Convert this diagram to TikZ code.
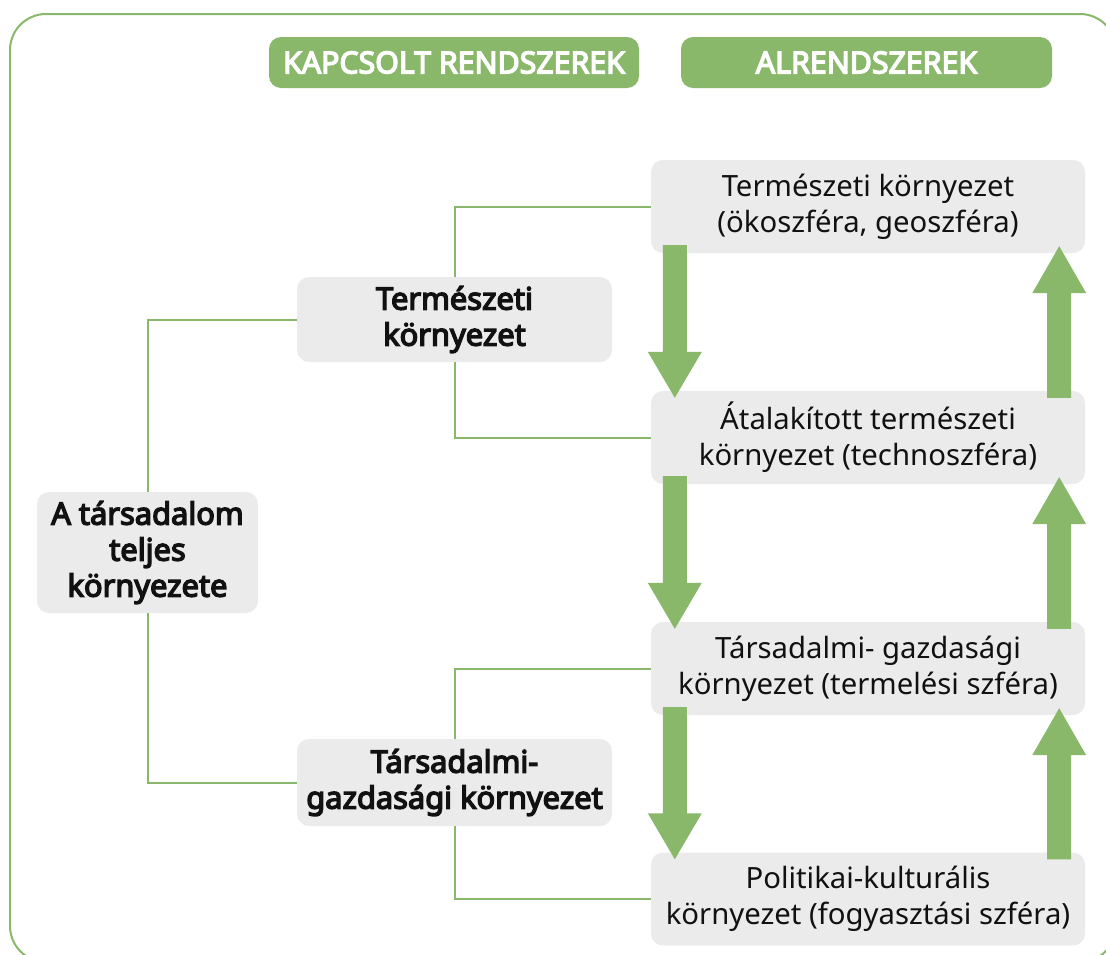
\documentclass[tikz,border=0pt]{standalone}
\usepackage{fontspec}
\setmainfont{Noto Sans}[AutoFakeBold=4.5]
\usetikzlibrary{calc}
\definecolor{grn}{HTML}{89B86A}
\definecolor{gry}{HTML}{EBEBEB}
\definecolor{txt}{HTML}{111111}
\begin{document}
\begin{tikzpicture}[x=1pt,y=-1pt,
  gbox/.style={fill=gry, rounded corners=12pt, inner sep=0pt, align=center, text=txt,
    font=\fontsize{29.3}{36}\selectfont},
  bbox/.style={gbox, font=\fontsize{30.8}{36}\selectfont\bfseries},
  hbox/.style={fill=grn, rounded corners=12pt, inner sep=0pt, text=white,
    font=\fontsize{30.3}{30}\selectfont\bfseries},
  conn/.style={draw=grn, line width=2pt}]
\useasboundingbox (0,0) rectangle (1106,954);
\begin{scope}
\clip (0,0) rectangle (1106,954);
\draw[grn, line width=2pt, rounded corners=36pt] (10,14) rectangle (1116,962);
\end{scope}
% headers
\node[hbox, minimum width=370pt, minimum height=51pt] (h1) at (454,62.5) {KAPCSOLT RENDSZEREK};
\node[hbox, minimum width=371pt, minimum height=51pt] (h2) at (866.5,62.5) {ALRENDSZEREK};
% right boxes
\node[gbox, minimum width=434pt, minimum height=93pt] (r1) at (868,206.5) {Természeti környezet\\(ökoszféra, geoszféra)};
\node[gbox, minimum width=434pt, minimum height=93pt] (r2) at (868,437.5) {Átalakított természeti\\környezet (technoszféra)};
\node[gbox, minimum width=434pt, minimum height=93pt] (r3) at (868,668.5) {Társadalmi- gazdasági\\környezet (termelési szféra)};
\node[gbox, minimum width=434pt, minimum height=93pt] (r4) at (868,899) {Politikai-kulturális\\környezet (fogyasztási szféra)};
% middle boxes
\node[bbox, minimum width=315pt, minimum height=85pt] (m1) at (454.5,319.5) {Természeti\\környezet};
\node[bbox, minimum width=315pt, minimum height=87pt] (m2) at (454.5,782.5) {Társadalmi-\\gazdasági környezet};
% left box
\node[bbox, minimum width=221pt, minimum height=121pt] (l) at (147.5,552.5) {A társadalom\\teljes\\környezete};
% connectors
\draw[conn] (l.north) |- (m1.west);
\draw[conn] (l.south) |- (m2.west);
\draw[conn] (m1.north) |- (r1.west);
\draw[conn] (m1.south) |- (r2.west);
\draw[conn] (m2.north) |- (r3.west);
\draw[conn] (m2.south) |- (r4.west);
% down arrows
\foreach \a/\b in {r1/r2, r2/r3, r3/r4}{
  \coordinate (st) at ($(\a.south west)+(24,-8)$);
  \coordinate (tp) at ($(\b.north west)+(24,7)$);
  \fill[grn] ($(st)+(-12,0)$) -- ($(st)+(12,0)$) -- ($(tp)+(12,-46)$) -- ($(tp)+(27,-46)$) -- (tp) -- ($(tp)+(-27,-46)$) -- ($(tp)+(-12,-46)$) -- cycle;
}
% up arrows
\foreach \a/\b in {r2/r1, r3/r2, r4/r3}{
  \coordinate (sb) at ($(\a.north east)+(-26,7)$);
  \coordinate (tp) at ($(\b.south east)+(-26,-7)$);
  \fill[grn] ($(sb)+(-12,0)$) -- ($(sb)+(12,0)$) -- ($(tp)+(12,47)$) -- ($(tp)+(27,47)$) -- (tp) -- ($(tp)+(-27,47)$) -- ($(tp)+(-12,47)$) -- cycle;
}
\end{tikzpicture}
\end{document}
